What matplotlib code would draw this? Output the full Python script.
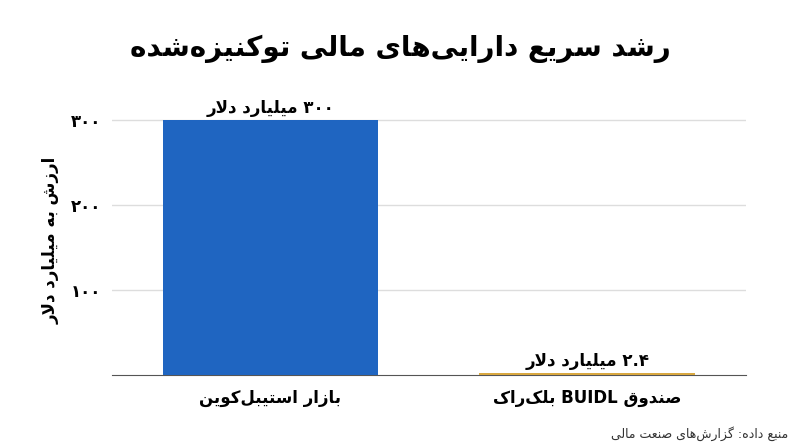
import matplotlib
matplotlib.use("Agg")
import matplotlib.pyplot as plt

categories = ["بازار استیبل‌کوین", "صندوق BUIDL بلک‌راک"]
values = [300, 2.4]
value_labels = ["۳۰۰ میلیارد دلار", "۲.۴ میلیارد دلار"]
yticks = [100, 200, 300]
ytick_labels = ["۱۰۰", "۲۰۰", "۳۰۰"]
title = "رشد سریع دارایی‌های مالی توکنیزه‌شده"
ylabel = "ارزش به میلیارد دلار"
source = "منبع داده: گزارش‌های صنعت مالی"
colors = ["#1f65c1", "#d9a840"]

# --- minimal Arabic/Persian shaping ---
F = {  # iso, fin, ini, med
 'ا':(0xFE8D,0xFE8E,None,None),'آ':(0xFE81,0xFE82,None,None),
 'ب':(0xFE8F,0xFE90,0xFE91,0xFE92),'پ':(0xFB56,0xFB57,0xFB58,0xFB59),
 'ت':(0xFE95,0xFE96,0xFE97,0xFE98),'ث':(0xFE99,0xFE9A,0xFE9B,0xFE9C),
 'ج':(0xFE9D,0xFE9E,0xFE9F,0xFEA0),'چ':(0xFB7A,0xFB7B,0xFB7C,0xFB7D),
 'ح':(0xFEA1,0xFEA2,0xFEA3,0xFEA4),'خ':(0xFEA5,0xFEA6,0xFEA7,0xFEA8),
 'د':(0xFEA9,0xFEAA,None,None),'ذ':(0xFEAB,0xFEAC,None,None),
 'ر':(0xFEAD,0xFEAE,None,None),'ز':(0xFEAF,0xFEB0,None,None),
 'ژ':(0xFB8A,0xFB8B,None,None),
 'س':(0xFEB1,0xFEB2,0xFEB3,0xFEB4),'ش':(0xFEB5,0xFEB6,0xFEB7,0xFEB8),
 'ص':(0xFEB9,0xFEBA,0xFEBB,0xFEBC),'ض':(0xFEBD,0xFEBE,0xFEBF,0xFEC0),
 'ط':(0xFEC1,0xFEC2,0xFEC3,0xFEC4),'ظ':(0xFEC5,0xFEC6,0xFEC7,0xFEC8),
 'ع':(0xFEC9,0xFECA,0xFECB,0xFECC),'غ':(0xFECD,0xFECE,0xFECF,0xFED0),
 'ف':(0xFED1,0xFED2,0xFED3,0xFED4),'ق':(0xFED5,0xFED6,0xFED7,0xFED8),
 'ک':(0xFB8E,0xFB8F,0xFB90,0xFB91),'گ':(0xFB92,0xFB93,0xFB94,0xFB95),
 'ل':(0xFEDD,0xFEDE,0xFEDF,0xFEE0),'م':(0xFEE1,0xFEE2,0xFEE3,0xFEE4),
 'ن':(0xFEE5,0xFEE6,0xFEE7,0xFEE8),'و':(0xFEED,0xFEEE,None,None),
 'ه':(0xFEE9,0xFEEA,0xFEEB,0xFEEC),'ی':(0xFBFC,0xFBFD,0xFBFE,0xFBFF),
}
LA = {'ا':(0xFEFB,0xFEFC),'آ':(0xFEF5,0xFEF6)}

def shape(word):
    out = []
    chars = list(word)
    n = len(chars)
    i = 0
    def joins_next(k):
        return k < n and chars[k] in F and F[chars[k]][2] is not None
    while i < n:
        c = chars[i]
        if c not in F:
            out.append(c if c != '\u200c' else ''); i += 1; continue
        prev_joins = i > 0 and chars[i-1] in F and F[chars[i-1]][2] is not None
        if c == 'ل' and i+1 < n and chars[i+1] in LA:
            out.append(chr(LA[chars[i+1]][1 if prev_joins else 0])); i += 2; continue
        nxt = i+1 < n and chars[i+1] in F and F[c][2] is not None
        iso, fin, ini, med = F[c]
        if prev_joins and nxt: g = med
        elif prev_joins: g = fin
        elif nxt: g = ini
        else: g = iso
        out.append(chr(g)); i += 1
    return ''.join(out)

def is_ltr(ch):
    return ch.isascii() and ch.isalnum() or ('\u06f0' <= ch <= '\u06f9') or ch == '.'

def rtl(s):
    # split into runs
    runs = []
    for ch in s:
        kind = 'L' if is_ltr(ch) else 'R'
        if runs and runs[-1][0] == kind:
            runs[-1][1] += ch
        else:
            runs.append([kind, ch])
    vis = []
    for kind, t in reversed(runs):
        if kind == 'L':
            vis.append(t)
        else:
            vis.append(shape(t)[::-1])
    return ''.join(vis)

plt.rcParams['font.family'] = ['DejaVu Sans']

fig = plt.figure(figsize=(8, 4.47), dpi=100)
ax = fig.add_axes([0.14, 0.16, 0.792, 0.605])
x = [0, 1]
bars = ax.bar(x, values, width=0.68, color=colors, zorder=3)
ax.set_xlim(-0.5, 1.5)
ax.set_ylim(0, 318)
ax.set_yticks(yticks)
ax.set_yticklabels(ytick_labels, fontsize=12, fontweight='bold')
ax.set_xticks(x)
ax.set_xticklabels([rtl(c) for c in categories], fontsize=12, fontweight='bold')
ax.tick_params(axis='x', length=0, pad=10)
ax.tick_params(axis='y', length=0, pad=8)
ax.grid(axis='y', color='#dddddd', linewidth=1, zorder=0)
for s in ['top', 'right', 'left']:
    ax.spines[s].set_visible(False)
ax.spines['bottom'].set_color('#555555')
for xi, v, lab in zip(x, values, value_labels):
    ax.text(xi, v + 4, rtl(lab), ha='center', va='bottom', fontsize=12, fontweight='bold')
ax.set_ylabel(rtl(ylabel), fontsize=12, fontweight='bold', labelpad=8)
fig.text(0.5, 0.89, rtl(title), ha='center', va='center', fontsize=20, fontweight='bold')
fig.text(0.985, 0.03, rtl(source), ha='right', va='center', fontsize=9, color='#333333')
fig.savefig('out.png', dpi=100, facecolor='white')
